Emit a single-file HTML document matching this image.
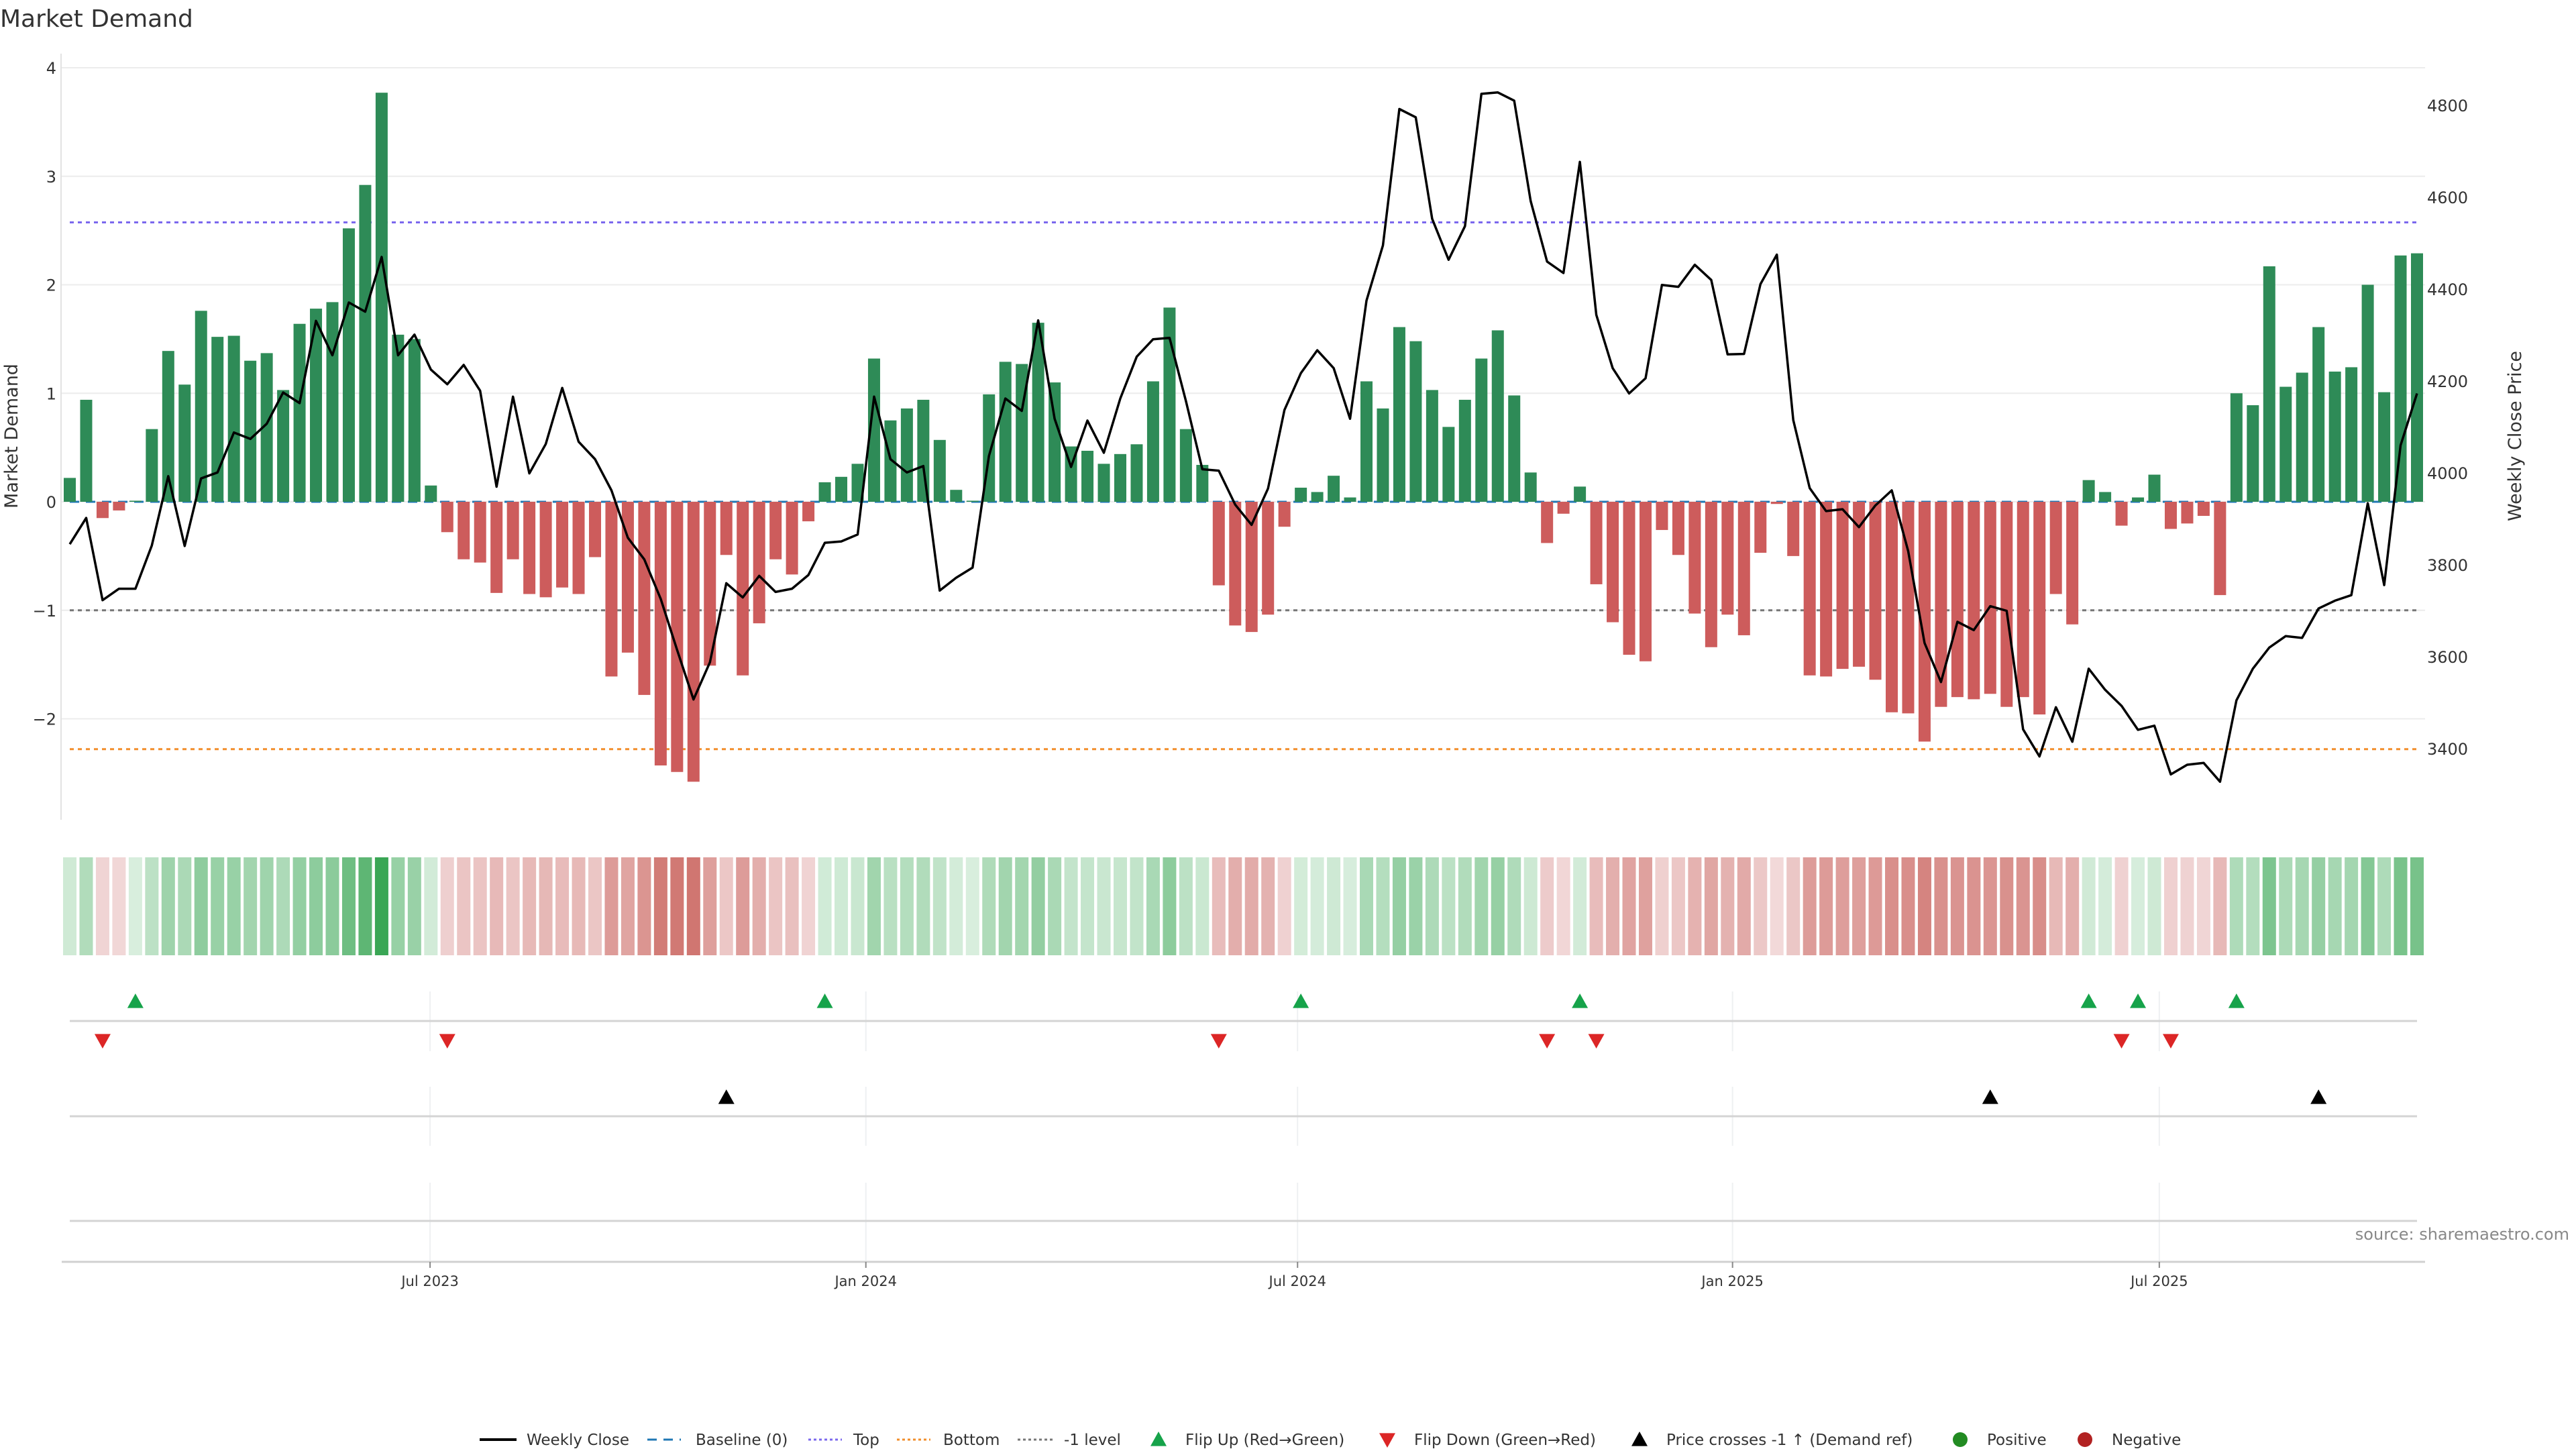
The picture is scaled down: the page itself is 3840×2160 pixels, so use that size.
<!DOCTYPE html>
<html><head><meta charset="utf-8"><style>
html,body{margin:0;padding:0;background:#fff;}
svg{display:block;font-family:"DejaVu Sans","Liberation Sans",sans-serif;}
</style></head><body>
<svg id="chart" xmlns="http://www.w3.org/2000/svg" width="3840" height="2160" viewBox="0 0 3840 2160">
<rect width="3840" height="2160" fill="#fff"/>
<text x="0" y="40" font-size="36" fill="#333">Market Demand</text>
<g id="grid"></g><g id="refs"></g><g id="bars"></g><g id="line"></g><g id="heat"></g><g id="markers"></g><g id="axes"></g><g id="legend"></g>
</svg>
<script>
const demand = [0.22,0.94,-0.15,-0.08,0.01,0.67,1.39,1.08,1.76,1.52,1.53,1.30,1.37,1.03,1.64,1.78,1.84,2.52,2.92,3.77,1.54,1.50,0.15,-0.28,-0.53,-0.56,-0.84,-0.53,-0.85,-0.88,-0.79,-0.85,-0.51,-1.61,-1.39,-1.78,-2.43,-2.49,-2.58,-1.51,-0.49,-1.60,-1.12,-0.53,-0.67,-0.18,0.18,0.23,0.35,1.32,0.75,0.86,0.94,0.57,0.11,0.01,0.99,1.29,1.27,1.65,1.10,0.51,0.47,0.35,0.44,0.53,1.11,1.79,0.67,0.34,-0.77,-1.14,-1.20,-1.04,-0.23,0.13,0.09,0.24,0.04,1.11,0.86,1.61,1.48,1.03,0.69,0.94,1.32,1.58,0.98,0.27,-0.38,-0.11,0.14,-0.76,-1.11,-1.41,-1.47,-0.26,-0.49,-1.03,-1.34,-1.04,-1.23,-0.47,-0.02,-0.50,-1.60,-1.61,-1.54,-1.52,-1.64,-1.94,-1.95,-2.21,-1.89,-1.80,-1.82,-1.77,-1.89,-1.80,-1.96,-0.85,-1.13,0.20,0.09,-0.22,0.04,0.25,-0.25,-0.20,-0.13,-0.86,1.00,0.89,2.17,1.06,1.19,1.61,1.20,1.24,2.00,1.01,2.27,2.29];
const price = [3845,3902,3723,3748,3748,3842,3993,3841,3988,4001,4088,4074,4107,4175,4152,4331,4256,4371,4351,4470,4256,4301,4225,4193,4235,4179,3970,4166,3999,4063,4185,4068,4030,3962,3859,3812,3726,3615,3507,3588,3760,3729,3776,3741,3748,3778,3848,3851,3866,4166,4030,4001,4015,3744,3772,3794,4037,4162,4135,4332,4118,4013,4114,4044,4162,4253,4291,4294,4156,4008,4005,3931,3887,3966,4137,4217,4267,4228,4118,4375,4495,4792,4774,4553,4464,4537,4825,4828,4810,4592,4460,4435,4677,4344,4228,4173,4206,4409,4405,4453,4420,4258,4259,4411,4475,4115,3967,3917,3921,3882,3929,3962,3830,3630,3545,3676,3658,3710,3700,3442,3383,3490,3415,3574,3528,3493,3441,3450,3344,3365,3369,3328,3505,3574,3620,3645,3641,3705,3722,3734,3934,3756,4060,4173];
const leftTicks = [4,3,2,1,0,-1,-2];
const rightTicks = [4800,4600,4400,4200,4000,3800,3600,3400];
const dateLabels = ["Jul 2023","Jan 2024","Jul 2024","Jan 2025","Jul 2025"];
const dateIdx = [21.95,48.5,74.8,101.3,127.3];
const topLevel = 2.575, bottomLevel = -2.28, minusLevel = -1, priceRef = 3700;

const NS="http://www.w3.org/2000/svg";
function mk(tag,attrs,parent){const e=document.createElementNS(NS,tag);for(const k in attrs)e.setAttribute(k,attrs[k]);parent.appendChild(e);return e;}
const X0=104, DX=(3603-104)/(demand.length-1);
const xs=i=>X0+DX*i;
const yL=v=>748-v*161.75;
const yR=p=>1116-(p-3400)/1400*959;
const G=id=>document.getElementById(id);

leftTicks.forEach(t=>{
  const l=mk('line',{x1:91,x2:3615,y1:yL(t),y2:yL(t),stroke:'#ececec','stroke-width':2},G('grid'));
  
  
  const tx=mk('text',{x:84,y:yL(t)+9,'text-anchor':'end','font-size':24,fill:'#333'},G('axes'));
  tx.textContent=t<0?'\u2212'+Math.abs(t):String(t);
  
  
});
rightTicks.forEach(t=>{
  const tx=mk('text',{x:3618,y:yR(t)+9,'font-size':24,fill:'#333'},G('axes'));
  tx.textContent=String(t);
  
  
});
const sp=mk('line',{x1:91,x2:91,y1:80,y2:1222,stroke:'#e2e2e2','stroke-width':2},G('axes'));


const yt=mk('text',{x:0,y:0,'font-size':27,fill:'#333','text-anchor':'middle',transform:'translate(26,650) rotate(-90)'},G('axes'));
yt.textContent='Market Demand';


const yt2=mk('text',{x:0,y:0,'font-size':27,fill:'#333','text-anchor':'middle',transform:'translate(3758,650) rotate(-90)'},G('axes'));
yt2.textContent='Weekly Close Price';



[[topLevel,'#7b68ee'],[bottomLevel,'#f28e2b'],[minusLevel,'#777']].forEach(r=>{
  const l=mk('line',{x1:104,x2:3603,y1:yL(r[0]),y2:yL(r[0]),stroke:r[1],'stroke-width':3,'stroke-dasharray':'6 6'},G('refs'));
  
  
});
const bl=mk('line',{x1:104,x2:3603,y1:yL(0),y2:yL(0),stroke:'#1f77b4','stroke-width':3,'stroke-dasharray':'14 10'},G('refs'));



demand.forEach((v,i)=>{
  const y0=yL(0),y1=yL(v);
  const b=mk('rect',{x:xs(i)-9,width:18,y:Math.min(y0,y1),height:Math.max(Math.abs(y1-y0),0.5),fill:v>=0?'#2e8b57':'#cd5c5c'},G('bars'));
  
  
});

const pl=mk('polyline',{points:price.map((p,i)=>xs(i).toFixed(1)+','+yR(p).toFixed(1)).join(' '),fill:'none',stroke:'#000','stroke-width':3.5,'stroke-linejoin':'round'},G('line'));



function mix(a,b,t){return 'rgb('+a.map((c,k)=>Math.round(c+(b[k]-c)*t)).join(',')+')';}
demand.forEach((v,i)=>{
  const c=v>=0?mix([216,238,221],[58,166,85],Math.min(v/3.77,1)):mix([242,218,218],[208,117,112],Math.min(-v/2.6,1));
  const h=mk('rect',{x:xs(i)-10,width:20,y:1278,height:146,fill:c},G('heat'));
  
  
});

[[1478,1567],[1620,1708],[1763,1879]].forEach(s=>{
  dateIdx.forEach(d=>{
    const l=mk('line',{x1:xs(d),x2:xs(d),y1:s[0],y2:s[1],stroke:'#eef0f2','stroke-width':2},G('grid'));
    
    
  });
});
[1522,1664,1820].forEach(y=>{
  const l=mk('line',{x1:104,x2:3603,y1:y,y2:y,stroke:'#d4d4d4','stroke-width':3},G('grid'));
  
  
});
function tri(x,y,up,col){
  const s=12;
  const pts=up?[[x,y-s],[x+s,y+s*0.8],[x-s,y+s*0.8]]:[[x,y+s],[x+s,y-s*0.8],[x-s,y-s*0.8]];
  return mk('polygon',{points:pts.map(p=>p.join(',')).join(' '),fill:col},G('markers'));
}
for(let i=1;i<demand.length;i++){
  if(demand[i-1]<0&&demand[i]>=0){const t=tri(xs(i),1493,true,'#16a34a');
    
    }
  if(demand[i-1]>=0&&demand[i]<0){const t=tri(xs(i),1551,false,'#dc2626');
    
    }
  if(price[i-1]<priceRef&&price[i]>=priceRef){const t=tri(xs(i),1636,true,'#000');
    
    }
}

const xa=mk('line',{x1:92,x2:3615,y1:1881,y2:1881,stroke:'#d0d0d0','stroke-width':3},G('axes'));


dateLabels.forEach((lab,k)=>{
  const x=xs(dateIdx[k]);
  const tk=mk('line',{x1:x,x2:x,y1:1881,y2:1890,stroke:'#888','stroke-width':2},G('axes'));
  
  
  const t=mk('text',{x:x,y:1917,'text-anchor':'middle','font-size':21,fill:'#333'},G('axes'));
  t.textContent=lab;
  
  
});
const src=mk('text',{x:3830,y:1848,'text-anchor':'end','font-size':24,fill:'#888'},G('axes'));
src.textContent='source: sharemaestro.com';



const L=G('legend'), LY=2146;
function ltext(x,s){const t=mk('text',{x:x,y:LY+8,'font-size':23,fill:'#333'},L);t.textContent=s;
  
  }
mk('line',{x1:715,x2:770,y1:LY,y2:LY,stroke:'#000','stroke-width':4},L); ltext(785,'Weekly Close');
mk('line',{x1:965,x2:1015,y1:LY,y2:LY,stroke:'#1f77b4','stroke-width':3,'stroke-dasharray':'14 10'},L); ltext(1037,'Baseline (0)');
mk('line',{x1:1205,x2:1255,y1:LY,y2:LY,stroke:'#7b68ee','stroke-width':3,'stroke-dasharray':'4 4'},L); ltext(1272,'Top');
mk('line',{x1:1337,x2:1387,y1:LY,y2:LY,stroke:'#f28e2b','stroke-width':3,'stroke-dasharray':'4 4'},L); ltext(1406,'Bottom');
mk('line',{x1:1517,x2:1570,y1:LY,y2:LY,stroke:'#777','stroke-width':3,'stroke-dasharray':'4 4'},L); ltext(1586,'-1 level');
tri(1727,LY,true,'#16a34a'); ltext(1767,'Flip Up (Red\u2192Green)');
tri(2068,LY,false,'#dc2626'); ltext(2108,'Flip Down (Green\u2192Red)');
tri(2444,LY,true,'#000'); ltext(2484,'Price crosses -1 \u2191 (Demand ref)');
mk('circle',{cx:2922,cy:LY,r:11,fill:'#228b22'},L); ltext(2962,'Positive');
mk('circle',{cx:3108,cy:LY,r:11,fill:'#b22222'},L); ltext(3148,'Negative');
</script>
</body></html>
